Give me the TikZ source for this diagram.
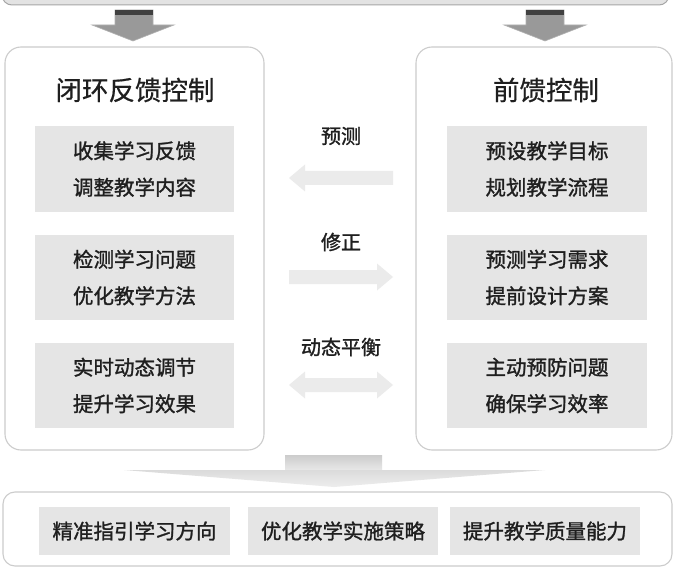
\documentclass[tikz,border=0pt]{standalone}
\usepackage{fontspec}
\setmainfont{Noto Sans CJK SC}
\newfontfamily\semibold[FakeBold=1.3]{Noto Sans CJK SC}
\newfontfamily\lightbold[FakeBold=0.6]{Noto Sans CJK SC}
\begin{document}
\begin{tikzpicture}[x=1pt,y=-1pt,
  panel/.style={draw=black!20,line width=1.1pt,fill=white,rounded corners=16pt},
  innerbox/.style={fill=black!10,draw=none},
  txt/.style={text=black!88,font=\semibold\fontsize{20.5}{36.5}\selectfont,align=center,inner sep=0pt},
  ttl/.style={text=black!88,font=\lightbold\fontsize{26.5}{30}\selectfont,inner sep=0pt},
  lbl/.style={text=black!88,font=\semibold\fontsize{20}{24}\selectfont,inner sep=0pt},
  midarrow/.style={fill=black!8,draw=none},
  toparrow/.style={fill=black!40,draw=black!30,line width=0.6pt},
  topbar/.style={fill=black!75,draw=none}
]
\useasboundingbox (0,0) rectangle (675,567);
\fill[white] (0,0) rectangle (675,567);
% top box (cut off)
\draw[fill=black!11,draw=black!35,line width=1pt,rounded corners=10pt] (2,-30) rectangle (669,5);
% top arrows
\draw[toparrow] (115,10) -- (153,10) -- (153,25) -- (174,25) -- (133,41) -- (92,25) -- (115,25) -- cycle;
\fill[topbar] (115,10) rectangle (153,15);
\draw[toparrow] (526,10) -- (564,10) -- (564,25) -- (586,25) -- (545,41) -- (504,25) -- (526,25) -- cycle;
\fill[topbar] (526,10) rectangle (564,15);
% panels
\node[panel,minimum width=259pt,minimum height=403pt] (lp) at (134.5,248.5) {};
\node[panel,minimum width=256pt,minimum height=403pt] (rp) at (544,248.5) {};
\node[ttl] (lt) at (135,90) {闭环反馈控制};
\node[ttl] (rt) at (546,90) {前馈控制};
% left inner boxes
\node[innerbox,minimum width=199pt,minimum height=85pt] (l1) at (134.5,169) {};
\node[innerbox,minimum width=199pt,minimum height=85pt] (l2) at (134.5,277.5) {};
\node[innerbox,minimum width=199pt,minimum height=85pt] (l3) at (134.5,385.5) {};
\node[txt] (l1t) at (l1) {收集学习反馈\\调整教学内容};
\node[txt] (l2t) at (l2) {检测学习问题\\优化教学方法};
\node[txt] (l3t) at (l3) {实时动态调节\\提升学习效果};
% right inner boxes
\node[innerbox,minimum width=200pt,minimum height=85pt] (r1) at (547,169) {};
\node[innerbox,minimum width=200pt,minimum height=85pt] (r2) at (547,277.5) {};
\node[innerbox,minimum width=200pt,minimum height=85pt] (r3) at (547,385.5) {};
\node[txt] (r1t) at (r1) {预设教学目标\\规划教学流程};
\node[txt] (r2t) at (r2) {预测学习需求\\提前设计方案};
\node[txt] (r3t) at (r3) {主动预防问题\\确保学习效率};
% middle labels
\node[lbl] (m1) at (341,136) {预测};
\node[lbl] (m2) at (341,242) {修正};
\node[lbl] (m3) at (341,347) {动态平衡};
% middle arrows
\fill[midarrow] (289,178) -- (305,164.5) -- (305,171) -- (393,171) -- (393,185) -- (305,185) -- (305,191.5) -- cycle;
\fill[midarrow] (393,277) -- (377,263.5) -- (377,270) -- (289,270) -- (289,284) -- (377,284) -- (377,290.5) -- cycle;
\fill[midarrow] (289,385) -- (305,371.5) -- (305,378) -- (377,378) -- (377,371.5) -- (393,385) -- (377,398.5) -- (377,392) -- (305,392) -- (305,398.5) -- cycle;
% bottom arrow
\shade[top color=black!20,bottom color=black!9] (285,455) rectangle (382,470);
\shade[top color=black!14,bottom color=black!7] (124,470) -- (545,470) -- (334,487) -- cycle;
% bottom box
\node[panel,rounded corners=12pt,minimum width=669pt,minimum height=74pt] (bp) at (337.5,529) {};
\node[innerbox,minimum width=191pt,minimum height=48pt] (b1) at (134.5,531) {};
\node[innerbox,minimum width=190pt,minimum height=48pt] (b2) at (343,531) {};
\node[innerbox,minimum width=190pt,minimum height=48pt] (b3) at (545,531) {};
\node[txt] (b1t) at (b1) {精准指引学习方向};
\node[txt] (b2t) at (b2) {优化教学实施策略};
\node[txt] (b3t) at (b3) {提升教学质量能力};
\end{tikzpicture}
\end{document}
